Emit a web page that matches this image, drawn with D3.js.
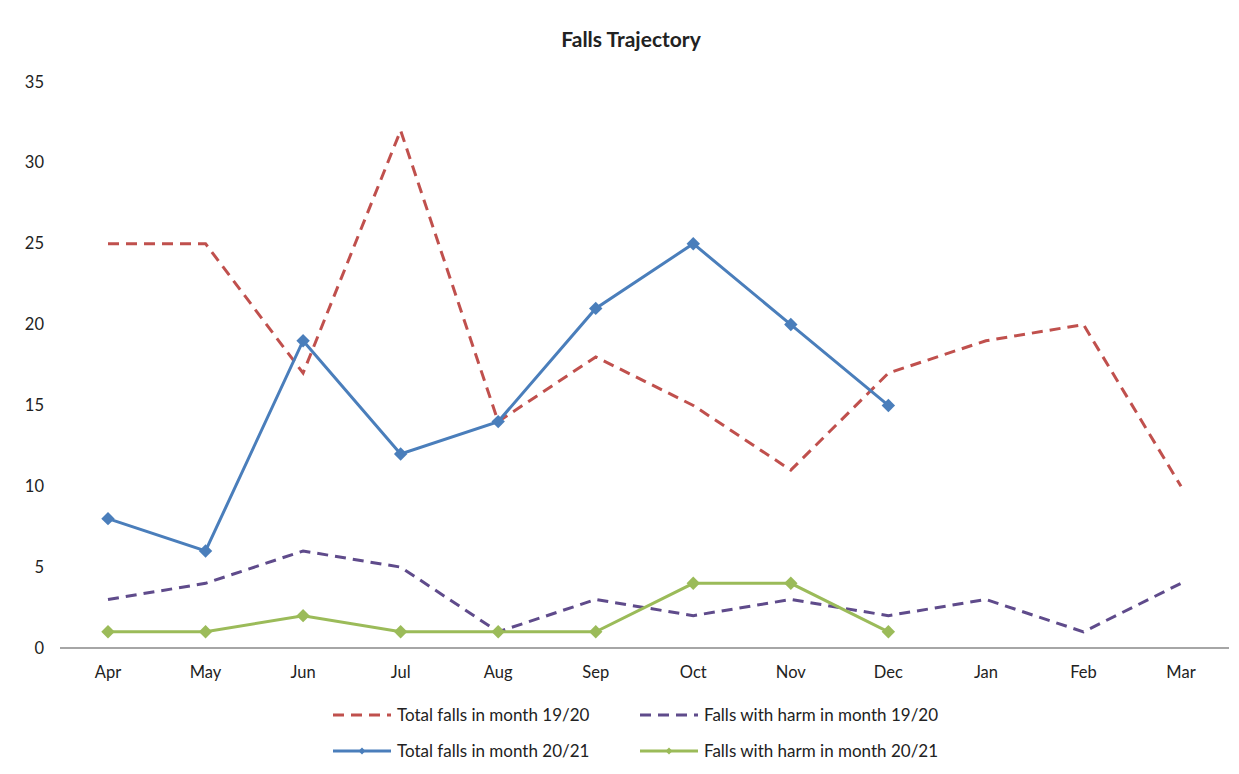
<!DOCTYPE html>
<html>
<head>
<meta charset="utf-8">
<script src="https://cdn.jsdelivr.net/npm/d3@7"></script>
<style>
  body { margin: 0; background: #fff; }
  svg text { font-family: Lato, "Open Sans", sans-serif; fill: #222; }
</style>
</head>
<body>
<svg width="1239" height="774"></svg>
<script>
var months = ["Apr", "May", "Jun", "Jul", "Aug", "Sep", "Oct", "Nov", "Dec", "Jan", "Feb", "Mar"];
var total1920 = [25, 25, 17, 32, 14, 18, 15, 11, 17, 19, 20, 10];
var harm1920 = [3, 4, 6, 5, 1, 3, 2, 3, 2, 3, 1, 4];
var total2021 = [8, 6, 19, 12, 14, 21, 25, 20, 15];
var harm2021 = [1, 1, 2, 1, 1, 1, 4, 4, 1];
var yTicks = [0, 5, 10, 15, 20, 25, 30, 35];

var series = [
  { name: "Total falls in month 19/20", values: total1920, color: "#C0504D", dashed: true },
  { name: "Falls with harm in month 19/20", values: harm1920, color: "#5F4B8B", dashed: true },
  { name: "Total falls in month 20/21", values: total2021, color: "#4A7EBB", dashed: false },
  { name: "Falls with harm in month 20/21", values: harm2021, color: "#9BBB59", dashed: false }
];

var svg = d3.select("svg");

var x = d3.scalePoint()
    .domain(months)
    .range([108, 1181]);

var y = d3.scaleLinear()
    .domain([0, 35])
    .range([648, 82]);

svg.append("text")
    .attr("x", 631)
    .attr("y", 47)
    .attr("text-anchor", "middle")
    .attr("font-size", "21px")
    .attr("font-weight", "bold")
    .text("Falls Trajectory");

// y labels, no axis line
svg.append("g").selectAll("text")
    .data(yTicks)
    .enter()
    .append("text")
    .attr("x", 44)
    .attr("y", d => y(d) + 5.5)
    .attr("text-anchor", "end")
    .attr("font-size", "16.5px")
    .text(d => d);

// x axis
svg.append("line")
    .attr("x1", 60).attr("x2", 1229)
    .attr("y1", 648).attr("y2", 648)
    .attr("stroke", "#888").attr("stroke-width", 1.3);

svg.append("g").selectAll("text")
    .data(months)
    .enter()
    .append("text")
    .attr("x", d => x(d))
    .attr("y", 678)
    .attr("text-anchor", "middle")
    .attr("font-size", "16.5px")
    .text(d => d);

var line = d3.line()
    .x((d, i) => x(months[i]))
    .y(d => y(d));

var diamond = d3.symbol().type(d3.symbolDiamond2).size(115);

series.forEach(function(s) {
  svg.append("path")
      .datum(s.values)
      .attr("d", line)
      .attr("fill", "none")
      .attr("stroke", s.color)
      .attr("stroke-width", 3)
      .attr("stroke-dasharray", s.dashed ? "11,7" : null);

  if (!s.dashed) {
    svg.append("g").selectAll("path")
        .data(s.values)
        .enter()
        .append("path")
        .attr("d", diamond)
        .attr("transform", (d, i) => "translate(" + x(months[i]) + "," + y(d) + ")")
        .attr("fill", s.color);
  }
});

// legend
var legendPos = [[333, 715], [640, 715], [333, 751], [640, 751]];
series.forEach(function(s, i) {
  var g = svg.append("g")
      .attr("transform", "translate(" + legendPos[i][0] + "," + legendPos[i][1] + ")");
  g.append("line")
      .attr("x1", 0).attr("x2", 58)
      .attr("y1", 0).attr("y2", 0)
      .attr("stroke", s.color)
      .attr("stroke-width", 3)
      .attr("stroke-dasharray", s.dashed ? "11,7" : null);
  if (!s.dashed) {
    g.append("path")
        .attr("d", d3.symbol().type(d3.symbolDiamond2).size(30))
        .attr("transform", "translate(29,0)")
        .attr("fill", s.color);
  }
  g.append("text")
      .attr("x", 64)
      .attr("y", 6)
      .attr("font-size", "17px")
      .text(s.name);
});
</script>
</body>
</html>
